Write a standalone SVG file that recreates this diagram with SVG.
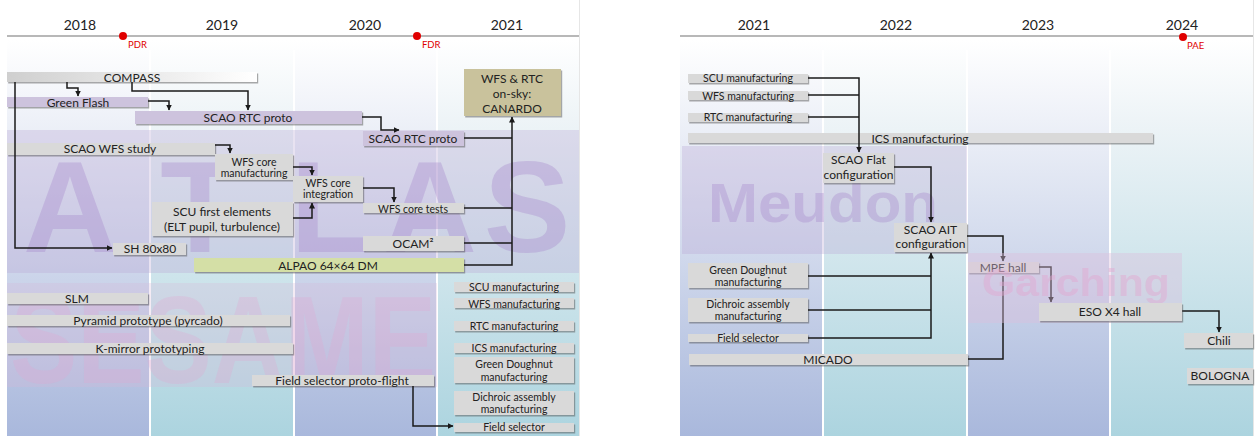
<svg xmlns="http://www.w3.org/2000/svg" width="1256" height="436" viewBox="0 0 1256 436">
<defs>
  <linearGradient id="gA" gradientUnits="userSpaceOnUse" x1="0" y1="40" x2="0" y2="436">
    <stop offset="0" stop-color="#ffffff"/><stop offset="0.2" stop-color="#eef1f8"/><stop offset="1" stop-color="#a9b8dc"/>
  </linearGradient>
  <linearGradient id="gB" gradientUnits="userSpaceOnUse" x1="0" y1="40" x2="0" y2="436">
    <stop offset="0" stop-color="#ffffff"/><stop offset="0.2" stop-color="#eef4f7"/><stop offset="1" stop-color="#acd4df"/>
  </linearGradient>
  <linearGradient id="gCompass" x1="0" y1="0" x2="1" y2="0">
    <stop offset="0" stop-color="#cfcfcf"/><stop offset="1" stop-color="#ffffff"/>
  </linearGradient>
  <filter id="sh" x="-10%" y="-30%" width="120%" height="160%">
    <feDropShadow dx="1.2" dy="1.5" stdDeviation="0.7" flood-color="#555" flood-opacity="0.5"/>
  </filter>
  <marker id="arr" markerUnits="userSpaceOnUse" markerWidth="6" markerHeight="6" refX="5.5" refY="3" orient="auto">
    <path d="M0,0 L6,3 L0,6 z" fill="#1a1a1a"/>
  </marker>
  <style>
    text { font-family: Lato, "Liberation Sans", sans-serif; fill: #222; }
    .yr { font-size: 14px; text-anchor: middle; }
    .ms { font-size: 9.5px; fill: #e00000; }
    .dot { fill: #e00000; }
    .axis { stroke: #a0a0a0; stroke-width: 1.5; }
    .sep { stroke: #ffffff; stroke-width: 2; }
    .box { filter: url(#sh); }
    .g { fill: #d9d9d9; }
    .p { fill: #cdc3dd; }
    .k { fill: #c9c29c; }
    .o { fill: #d4dfa6; }
    .t { font-size: 12px; text-anchor: middle; }
    .s { font-size: 10.5px; text-anchor: middle; }
    text.bigp { font-family: "Liberation Sans", sans-serif; font-weight: bold; fill: #a98ccc; fill-opacity: 0.38; }
    text.bigk { font-family: "Liberation Sans", sans-serif; font-weight: bold; fill: #e3a6d0; fill-opacity: 0.28; }
    #connectors path { fill: none; stroke: #1a1a1a; stroke-width: 1.5; }
  </style>
</defs>

<!-- backgrounds -->
<g id="background">
  <rect x="0" y="0" width="1256" height="436" fill="#ffffff"/>
  <rect x="7" y="40" width="143" height="396" fill="url(#gA)"/>
  <rect x="150" y="40" width="144" height="396" fill="url(#gB)"/>
  <rect x="294" y="40" width="143" height="396" fill="url(#gA)"/>
  <rect x="437" y="40" width="142" height="396" fill="url(#gB)"/>
  <rect x="680" y="40" width="143" height="396" fill="url(#gA)"/>
  <rect x="823" y="40" width="144" height="396" fill="url(#gB)"/>
  <rect x="967" y="40" width="143" height="396" fill="url(#gA)"/>
  <rect x="1110" y="40" width="143" height="396" fill="url(#gB)"/>
  <line class="sep" x1="150" y1="50" x2="150" y2="436"/>
  <line class="sep" x1="294" y1="50" x2="294" y2="436"/>
  <line class="sep" x1="437" y1="50" x2="437" y2="436"/>
  <line class="sep" x1="823" y1="50" x2="823" y2="436"/>
  <line class="sep" x1="967" y1="50" x2="967" y2="436"/>
  <line class="sep" x1="1110" y1="50" x2="1110" y2="436"/>
  <line x1="579.5" y1="0" x2="579.5" y2="436" stroke="#e6e6e6" stroke-width="1"/>
  <line x1="1253.5" y1="0" x2="1253.5" y2="436" stroke="#e6e6e6" stroke-width="1"/>
</g>

<!-- location bands -->
<g id="band-atlas">
  <rect x="7" y="130" width="572" height="143" fill="#b9a8d6" fill-opacity="0.33"/>
  <text class="bigp" x="70" y="252" font-size="130" text-anchor="middle">A</text>
  <text class="bigp" x="200" y="252" font-size="130" text-anchor="middle">T</text>
  <text class="bigp" x="330" y="252" font-size="130" text-anchor="middle">L</text>
  <text class="bigp" x="430" y="252" font-size="130" text-anchor="middle">A</text>
  <text class="bigp" x="527" y="252" font-size="130" text-anchor="middle">S</text>
</g>
<g id="band-sesame">
  <rect x="7" y="283" width="430" height="104" fill="#d8b8d8" fill-opacity="0.28"/>
  <text class="bigk" x="10" y="383" font-size="125" textLength="426" lengthAdjust="spacingAndGlyphs">SESAME</text>
</g>
<g id="band-meudon">
  <rect x="682" y="146" width="285" height="108" fill="#b9a8d6" fill-opacity="0.33"/>
  <text class="bigp" x="708" y="222" font-size="55" textLength="230" lengthAdjust="spacingAndGlyphs">Meudon</text>
</g>

<!-- header -->
<g id="timeline-left">
  <text class="yr" x="80" y="30">2018</text>
  <text class="yr" x="222" y="30">2019</text>
  <text class="yr" x="365" y="30">2020</text>
  <text class="yr" x="507" y="30">2021</text>
  <line class="axis" x1="7" y1="36" x2="579" y2="36"/>
</g>
<g id="milestone-pdr"><circle class="dot" cx="123" cy="36" r="4"/><text class="ms" x="128" y="48">PDR</text></g>
<g id="milestone-fdr"><circle class="dot" cx="417" cy="36" r="4"/><text class="ms" x="422" y="48">FDR</text></g>
<g id="timeline-right">
  <text class="yr" x="754" y="30">2021</text>
  <text class="yr" x="896" y="30">2022</text>
  <text class="yr" x="1038" y="30">2023</text>
  <text class="yr" x="1182" y="30">2024</text>
  <line class="axis" x1="680" y1="36" x2="1253" y2="36"/>
</g>
<g id="milestone-pae"><circle class="dot" cx="1183" cy="37" r="4"/><text class="ms" x="1187" y="49">PAE</text></g>

<!-- left panel nodes -->
<g id="n-compass"><rect class="box" x="7" y="72" width="250" height="10" fill="url(#gCompass)"/><text class="t" x="132" y="81.5">COMPASS</text></g>
<g id="n-greenflash"><rect class="box p" x="7" y="97" width="141" height="10"/><text class="t" x="78" y="106.5">Green Flash</text></g>
<g id="n-rtcproto1"><rect class="box p" x="135" y="111" width="227" height="13"/><text class="t" x="248" y="121.5">SCAO RTC proto</text></g>
<g id="n-rtcproto2"><rect class="box p" x="363" y="131" width="101" height="15"/><text class="t" x="413" y="142.5">SCAO RTC proto</text></g>
<g id="n-canardo"><rect class="box k" x="464" y="69" width="97" height="47"/>
  <text class="t" x="512" y="83">WFS &amp; RTC</text><text class="t" x="512" y="98">on-sky:</text><text class="t" x="512" y="113">CANARDO</text></g>
<g id="n-wfsstudy"><rect class="box g" x="7" y="143" width="208" height="12"/><text class="t" x="110" y="152.5">SCAO WFS study</text></g>
<g id="n-wfscoreman"><rect class="box g" x="215" y="154" width="78" height="26"/>
  <text class="s" x="254" y="165.5">WFS core</text><text class="s" x="254" y="177">manufacturing</text></g>
<g id="n-wfscoreint"><rect class="box g" x="293" y="176" width="70" height="26"/>
  <text class="s" x="328" y="186.5">WFS core</text><text class="s" x="328" y="198">integration</text></g>
<g id="n-scufirst"><rect class="box g" x="152" y="202" width="141" height="34"/>
  <text class="t" x="222" y="216">SCU first elements</text><text class="t" x="222" y="231">(ELT pupil, turbulence)</text></g>
<g id="n-sh"><rect class="box g" x="113" y="243" width="73" height="12"/><text class="t" x="150" y="253">SH 80x80</text></g>
<g id="n-alpao"><rect class="box o" x="194" y="258" width="270" height="14"/><text class="t" x="328" y="269.5">ALPAO 64×64 DM</text></g>
<g id="n-wfstests"><rect class="box g" x="363" y="203" width="101" height="10"/><text class="s" x="413" y="212.5">WFS core tests</text></g>
<g id="n-ocam"><rect class="box g" x="363" y="236" width="101" height="15"/><text class="t" x="413" y="247.5">OCAM²</text></g>
<g id="n-slm"><rect class="box g" x="7" y="293" width="141" height="11"/><text class="t" x="77" y="303">SLM</text></g>
<g id="n-pyramid"><rect class="box g" x="7" y="315" width="283" height="11"/><text class="t" x="148" y="325">Pyramid prototype (pyrcado)</text></g>
<g id="n-kmirror"><rect class="box g" x="7" y="343" width="286" height="11"/><text class="t" x="150" y="353">K-mirror prototyping</text></g>
<g id="n-fsproto"><rect class="box g" x="252" y="375" width="182" height="11"/><text class="t" x="342" y="385">Field selector proto-flight</text></g>
<g id="n-scuman-l"><rect class="box g" x="454" y="282" width="120" height="10"/><text class="s" x="514" y="290.5">SCU manufacturing</text></g>
<g id="n-wfsman-l"><rect class="box g" x="454" y="298" width="120" height="10"/><text class="s" x="514" y="307.5">WFS manufacturing</text></g>
<g id="n-rtcman-l"><rect class="box g" x="454" y="321" width="120" height="10"/><text class="s" x="514" y="330">RTC manufacturing</text></g>
<g id="n-icsman-l"><rect class="box g" x="454" y="343" width="120" height="10"/><text class="s" x="514" y="352">ICS manufacturing</text></g>
<g id="n-gd-l"><rect class="box g" x="454" y="357" width="120" height="26"/>
  <text class="s" x="514" y="368">Green Doughnut</text><text class="s" x="514" y="381">manufacturing</text></g>
<g id="n-dich-l"><rect class="box g" x="454" y="391" width="120" height="24"/>
  <text class="s" x="514" y="400.5">Dichroic assembly</text><text class="s" x="514" y="413">manufacturing</text></g>
<g id="n-fs-l"><rect class="box g" x="454" y="423" width="120" height="9"/><text class="s" x="514" y="431">Field selector</text></g>

<!-- right panel nodes -->
<g id="n-scuman-r"><rect class="box g" x="688" y="74" width="120" height="9"/><text class="s" x="748" y="82">SCU manufacturing</text></g>
<g id="n-wfsman-r"><rect class="box g" x="688" y="91" width="120" height="9"/><text class="s" x="748" y="99.5">WFS manufacturing</text></g>
<g id="n-rtcman-r"><rect class="box g" x="688" y="113" width="120" height="9"/><text class="s" x="748" y="121">RTC manufacturing</text></g>
<g id="n-icsman-r"><rect class="box g" x="688" y="133" width="465" height="10"/><text class="t" x="920" y="142.5">ICS manufacturing</text></g>
<g id="n-scaoflat"><rect class="box g" x="823" y="153" width="71" height="30"/>
  <text class="t" x="858.5" y="164">SCAO Flat</text><text class="t" x="858.5" y="179">configuration</text></g>
<g id="n-scaoait"><rect class="box g" x="894" y="223" width="73" height="29"/>
  <text class="t" x="930.5" y="234">SCAO AIT</text><text class="t" x="930.5" y="248">configuration</text></g>
<g id="n-gd-r"><rect class="box g" x="688" y="263" width="120" height="25"/>
  <text class="s" x="748" y="274">Green Doughnut</text><text class="s" x="748" y="286">manufacturing</text></g>
<g id="n-dich-r"><rect class="box g" x="688" y="298" width="120" height="24"/>
  <text class="s" x="748" y="308">Dichroic assembly</text><text class="s" x="748" y="320">manufacturing</text></g>
<g id="n-fs-r"><rect class="box g" x="688" y="334" width="120" height="8"/><text class="s" x="748" y="342">Field selector</text></g>
<g id="n-micado"><rect class="box g" x="689" y="354" width="279" height="11"/><text class="t" x="828" y="364">MICADO</text></g>
<g id="n-mpe"><rect class="box g" x="968" y="262" width="71" height="11"/><text class="t" x="1003" y="272">MPE hall</text></g>

<!-- connectors -->
<g id="connectors">
  <path d="M15,82 V248 H112" marker-end="url(#arr)"/>
  <path d="M67,82 V88 H78 V96" marker-end="url(#arr)"/>
  <path d="M132,82 V91 H248 V110" marker-end="url(#arr)"/>
  <path d="M148,101 H169 V110" marker-end="url(#arr)"/>
  <path d="M362,117 H381 V130 H399" marker-end="url(#arr)"/>
  <path d="M464,138 H512"/>
  <path d="M215,145 H230 V153" marker-end="url(#arr)"/>
  <path d="M293,167 H312 V175" marker-end="url(#arr)"/>
  <path d="M293,218 H312 V203" marker-end="url(#arr)"/>
  <path d="M363,188 H394 V202" marker-end="url(#arr)"/>
  <path d="M464,208 H512"/>
  <path d="M464,243 H512"/>
  <path d="M464,265 H512 V117" marker-end="url(#arr)"/>
  <path d="M413,386 V426 H453" marker-end="url(#arr)"/>
  <path d="M808,78 H859 V152" marker-end="url(#arr)"/>
  <path d="M808,95 H859"/>
  <path d="M808,117 H859"/>
  <path d="M894,167 H931 V222" marker-end="url(#arr)"/>
  <path d="M808,276 H931"/>
  <path d="M808,310 H931"/>
  <path d="M808,338 H931 V253" marker-end="url(#arr)"/>
  <path d="M967,236 H1003 V261" marker-end="url(#arr)"/>
  <path d="M968,359 H1003 V276"/>
  <path d="M1039,267 H1051 V302" marker-end="url(#arr)"/>
  <path d="M1182,311 H1219 V332" marker-end="url(#arr)"/>
</g>

<g id="band-garching">
  <rect x="968" y="253" width="214" height="70" fill="#dcbedc" fill-opacity="0.4"/>
  <text class="bigk" x="982" y="296" font-size="38" textLength="188" lengthAdjust="spacingAndGlyphs" style="fill-opacity:0.45">Garching</text>
</g>

<g id="n-esox4"><rect class="box g" x="1039" y="303" width="143" height="18"/><text class="t" x="1110" y="316">ESO X4 hall</text></g>
<g id="n-chili"><rect class="box g" x="1184" y="333" width="69" height="15"/><text class="t" x="1219" y="345">Chili</text></g>
<g id="n-bologna"><rect class="box g" x="1187" y="368" width="66" height="16"/><text class="t" x="1220" y="380">BOLOGNA</text></g>
</svg>
